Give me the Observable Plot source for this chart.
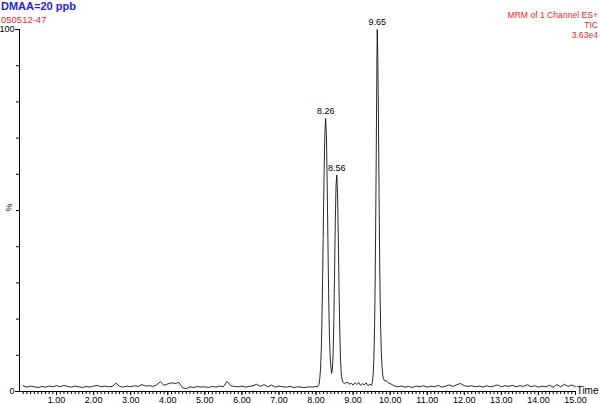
<!DOCTYPE html>
<html>
<head>
<meta charset="utf-8">
<script src="https://cdn.jsdelivr.net/npm/d3@7"></script>
<script src="https://cdn.jsdelivr.net/npm/@observablehq/plot@0.6"></script>
<style>
  html, body { margin: 0; padding: 0; background: #fff; }
  #wrap { position: relative; width: 600px; height: 404px; font-family: "Liberation Sans", Arial, sans-serif; }
  .hdr { position: absolute; white-space: nowrap; line-height: 1; }
</style>
</head>
<body>
<div id="wrap"></div>
<script>
// Retention time (min) and relative intensity (%)
const times = [
  0.1,0.2,0.3,0.4,0.5,0.6,0.7,0.8,0.9,1.0,1.1,1.2,1.3,1.4,1.5,1.6,1.7,1.8,1.9,2.0,
  2.1,2.2,2.3,2.4,2.5,2.6,2.7,2.8,2.9,3.0,3.1,3.2,3.3,3.4,3.5,3.6,3.7,3.8,3.9,4.0,
  4.1,4.2,4.3,4.4,4.5,4.6,4.7,4.8,4.9,5.0,5.1,5.2,5.3,5.4,5.5,5.6,5.7,5.8,5.9,6.0,
  6.1,6.2,6.3,6.4,6.5,6.6,6.7,6.8,6.9,7.0,7.1,7.2,7.3,7.4,7.5,7.6,7.7,7.8,7.9,8.0,
  8.04,8.08,8.10,8.12,8.14,8.16,8.18,8.20,8.22,8.24,8.26,8.28,8.30,8.32,8.34,8.36,8.38,8.40,8.42,
  8.44,8.46,8.48,8.50,8.52,8.54,8.56,8.58,8.60,8.62,8.64,8.66,8.68,8.70,8.72,8.76,8.80,
  8.85,8.90,8.95,9.00,9.05,9.10,9.15,9.20,9.25,9.30,9.35,9.40,9.45,9.50,
  9.52,9.54,9.56,9.58,9.60,9.62,9.64,9.65,9.66,9.68,9.70,9.72,9.74,9.76,9.78,9.80,9.82,9.85,
  9.90,9.95,10.0,10.1,10.2,10.3,10.4,10.5,10.6,10.7,10.8,10.9,11.0,11.1,11.2,11.3,11.4,11.5,
  11.6,11.7,11.8,11.9,12.0,12.1,12.2,12.3,12.4,12.5,12.6,12.7,12.8,12.9,13.0,13.1,13.2,13.3,
  13.4,13.5,13.6,13.7,13.8,13.9,14.0,14.1,14.2,14.3,14.4,14.5,14.6,14.7,14.8,14.9,15.0
];
const intensity = [
  1.6,1.2,1.5,1.3,1.1,1.4,1.2,1.5,1.3,1.6,1.3,1.7,1.4,1.2,1.5,1.3,1.1,1.4,1.2,1.5,
  1.7,1.3,1.5,1.3,1.4,2.3,1.4,1.2,1.5,1.3,1.6,1.4,1.9,1.5,1.6,1.4,1.8,2.7,1.7,2.1,
  2.4,2.2,2.5,1.0,0.8,1.3,1.1,1.4,1.2,1.3,1.1,1.4,1.2,1.5,1.3,2.8,1.6,1.4,1.3,1.5,
  1.2,1.4,1.6,2.0,1.4,1.9,1.3,1.8,1.2,1.5,1.3,1.2,1.4,1.1,1.3,1.2,1.1,1.3,1.2,1.4,
  1.3,2.0,3.5,6,11,20,33,48,62,72,75.4,71,58,42,27,16,10,7,5.0,
  6.0,10,19,33,47,57,59.8,55,43,29,17,9,5,3.5,2.6,2.2,2.4,
  2.6,2.0,2.3,1.8,2.4,1.9,2.5,1.7,2.2,1.8,2.4,1.6,2.0,1.7,
  2.5,4.5,9,18,35,60,88,100,97,80,55,33,19,11,7,4.5,3.5,3.0,
  2.9,2.4,2.2,1.6,1.3,1.5,1.2,1.4,1.1,1.5,1.3,1.6,1.2,1.5,1.3,1.7,1.2,1.5,
  1.8,1.4,1.9,2.2,1.6,1.4,1.6,1.3,1.5,1.2,1.6,1.3,1.5,1.8,1.3,1.6,1.4,1.7,
  1.3,1.6,1.4,1.9,1.3,1.6,1.2,1.5,1.3,1.7,1.2,1.9,1.3,2.0,1.4,1.8,1.3
];
// Labelled peak apexes
const peakTimes = [8.26, 8.56, 9.65];
const peakHeights = [75.4, 59.8, 100];
const peakLabels = ["8.26", "8.56", "9.65"];
// Axis ticks
const xLabelTicks = [1,2,3,4,5,6,7,8,9,10,11,12,13,14,15];
const yLabelTicks = [0, 100];

const trace = times.map((t, i) => ({t, v: intensity[i]}));
const peaks = peakTimes.map((t, i) => ({t, v: peakHeights[i], label: peakLabels[i]}));
const xMinor = d3.range(1, 151).map(d => d / 10);
const yMinor = d3.range(0, 101, 10);

const chart = Plot.plot({
  width: 600,
  height: 404,
  marginLeft: 19,
  marginRight: 25,
  marginTop: 29,
  marginBottom: 13,
  style: {fontFamily: "'Liberation Sans', Arial, sans-serif", fontSize: "9px", background: "#fff", color: "#000"},
  x: {domain: [0, 15], axis: null},
  y: {domain: [0, 100], axis: null},
  marks: [
    Plot.axisX({ticks: xMinor, tickSize: 3, tickFormat: () => "", anchor: "bottom", label: null}),
    Plot.axisX({ticks: xLabelTicks, tickSize: 4, tickPadding: 1, tickFormat: d => d.toFixed(2), anchor: "bottom", fontSize: 9, fill: "#000", label: null}),
    Plot.axisY({ticks: yMinor, tickSize: 3, tickFormat: () => "", anchor: "left", label: null}),
    Plot.axisY({ticks: yLabelTicks, tickSize: 4, tickPadding: 1, tickFormat: d => String(d), anchor: "left", fontSize: 9, label: null}),
    Plot.ruleX([0], {stroke: "#000", strokeWidth: 1}),
    Plot.ruleY([0], {stroke: "#000", strokeWidth: 1}),
    Plot.line(trace, {x: "t", y: "v", stroke: "#111", strokeWidth: 0.9, curve: "linear"}),
    Plot.text(peaks, {x: "t", y: "v", text: "label", dy: -7, fontSize: 9, fill: "#000"}),
    Plot.text(["%"], {frameAnchor: "left", dx: -10, dy: 1, rotate: -90, fontSize: 9, fill: "#000"}),
    Plot.text(["Time"], {frameAnchor: "bottom-right", dx: 23, dy: 2, textAnchor: "end", fontSize: 10, fill: "#000"})
  ]
});

const wrap = document.getElementById("wrap");
wrap.appendChild(chart);

function hdr(text, css) {
  const d = document.createElement("div");
  d.className = "hdr";
  d.textContent = text;
  Object.assign(d.style, css);
  wrap.appendChild(d);
}
hdr("DMAA=20 ppb", {left: "1px", top: "1px", color: "#1e1ee8", fontWeight: "bold", fontSize: "11px"});
hdr("050512-47", {left: "1px", top: "15px", color: "#f02828", fontSize: "9.5px"});
hdr("MRM of 1 Channel ES+", {right: "2px", top: "11px", color: "#f02828", fontSize: "8.6px", textAlign: "right"});
hdr("TIC", {right: "2px", top: "21px", color: "#f02828", fontSize: "8.6px", textAlign: "right"});
hdr("3.63e4", {right: "2px", top: "31px", color: "#f02828", fontSize: "8.6px", textAlign: "right"});
</script>
</body>
</html>
